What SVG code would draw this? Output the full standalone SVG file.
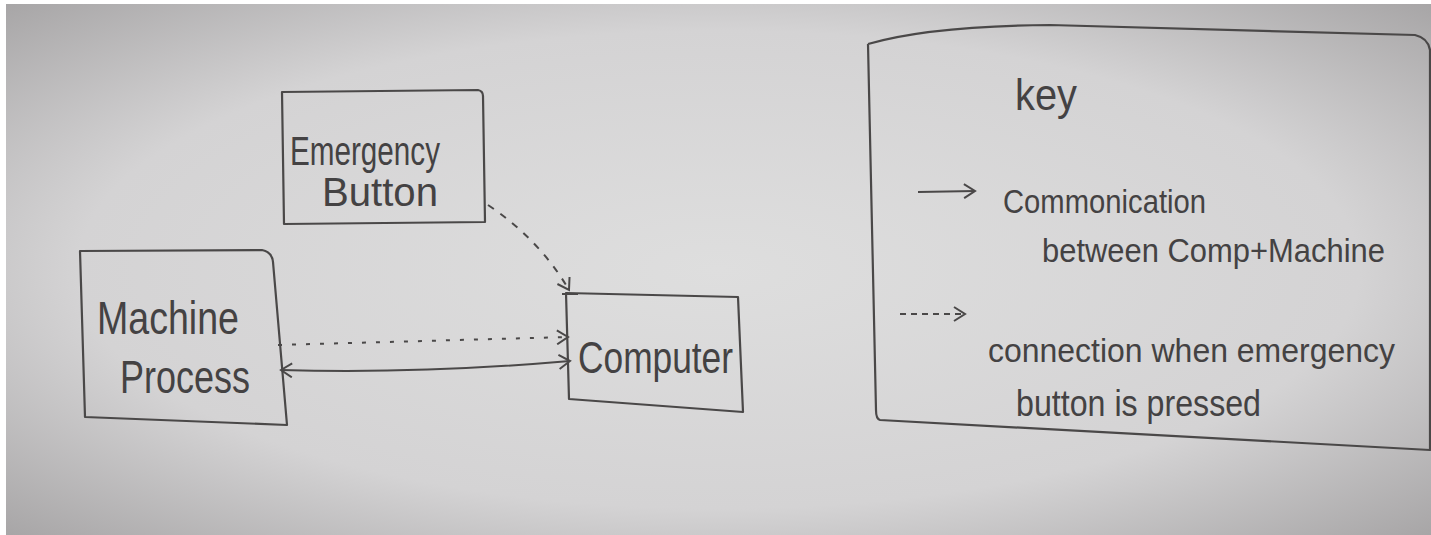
<svg xmlns="http://www.w3.org/2000/svg" width="1431" height="535" viewBox="0 0 1431 535">
<defs>
<radialGradient id="bg" cx="0.5" cy="0.5" r="0.75">
<stop offset="0" stop-color="#dedede"/>
<stop offset="0.6" stop-color="#d4d3d4"/>
<stop offset="1" stop-color="#a09e9f"/>
</radialGradient>
<marker id="open" markerWidth="16" markerHeight="16" refX="13" refY="8" orient="auto" markerUnits="userSpaceOnUse">
<path d="M2,1 L13,8 L2,15" fill="none" stroke="#4a4848" stroke-width="2"/>
</marker>
<marker id="openStart" markerWidth="16" markerHeight="16" refX="3" refY="8" orient="auto" markerUnits="userSpaceOnUse">
<path d="M14,1 L3,8 L14,15" fill="none" stroke="#4a4848" stroke-width="2"/>
</marker>
</defs>
<style>
.box{fill:none;stroke:#4a4848;stroke-width:2.2;stroke-linejoin:round}
.t{font-family:"Liberation Sans","DejaVu Sans",sans-serif;fill:#444243;font-weight:normal}
.ln{fill:none;stroke:#4a4848;stroke-width:2}
</style>
<rect x="0" y="0" width="1431" height="535" fill="#ffffff"/>
<rect x="6" y="4" width="1425" height="531" fill="url(#bg)"/>

<g id="emergency-button">
<path class="box" d="M282,92 L478,90 Q483,91 483,96 L485,222 L284,224 Z"/>
<text class="t" x="290" y="165" font-size="40" textLength="150" lengthAdjust="spacingAndGlyphs">Emergency</text>
<text class="t" x="322" y="206" font-size="40" textLength="116" lengthAdjust="spacingAndGlyphs">Button</text>
</g>

<g id="machine-process">
<path class="box" d="M80,251 L262,250 Q272,252 273,262 L287,425 L85,417 Z"/>
<text class="t" x="97" y="334" font-size="46" textLength="142" lengthAdjust="spacingAndGlyphs">Machine</text>
<text class="t" x="120" y="393" font-size="46" textLength="130" lengthAdjust="spacingAndGlyphs">Process</text>
</g>

<g id="computer">
<path class="box" d="M566,293 L738,297 L743,412 L569,399 Z"/>
<text class="t" x="578" y="373" font-size="44" textLength="155" lengthAdjust="spacingAndGlyphs">Computer</text>
</g>

<g id="key">
<path class="box" d="M868,44 Q930,26 1050,25 L1415,35 Q1428,38 1430,50 L1430,450 L880,420 Q876,419 876,410 L868,44"/>
<text class="t" x="1015" y="110" font-size="44" textLength="62" lengthAdjust="spacingAndGlyphs">key</text>
<path class="ln" d="M918,192 L975,191" marker-end="url(#open)"/>
<text class="t" x="1003" y="213" font-size="34" textLength="203" lengthAdjust="spacingAndGlyphs">Commonication</text>
<text class="t" x="1042" y="262" font-size="34" textLength="343" lengthAdjust="spacingAndGlyphs">between Comp+Machine</text>
<path class="ln" d="M900,314 L965,314" stroke-dasharray="6,5" marker-end="url(#open)"/>
<text class="t" x="988" y="362" font-size="34" textLength="407" lengthAdjust="spacingAndGlyphs">connection when emergency</text>
<text class="t" x="1016" y="416" font-size="36" textLength="245" lengthAdjust="spacingAndGlyphs">button is pressed</text>
</g>

<g id="connectors">
<path class="ln" d="M488,205 Q540,240 569,290" stroke-dasharray="7,8" marker-end="url(#open)"/>
<path class="ln" d="M562,294 L598,294" stroke-dasharray="16,22"/>
<path class="ln" d="M278,345 L568,337" stroke-dasharray="4,10" marker-end="url(#open)"/>
<path class="ln" d="M281,370 Q420,374 570,361" marker-start="url(#openStart)" marker-end="url(#open)"/>
</g>
</svg>
